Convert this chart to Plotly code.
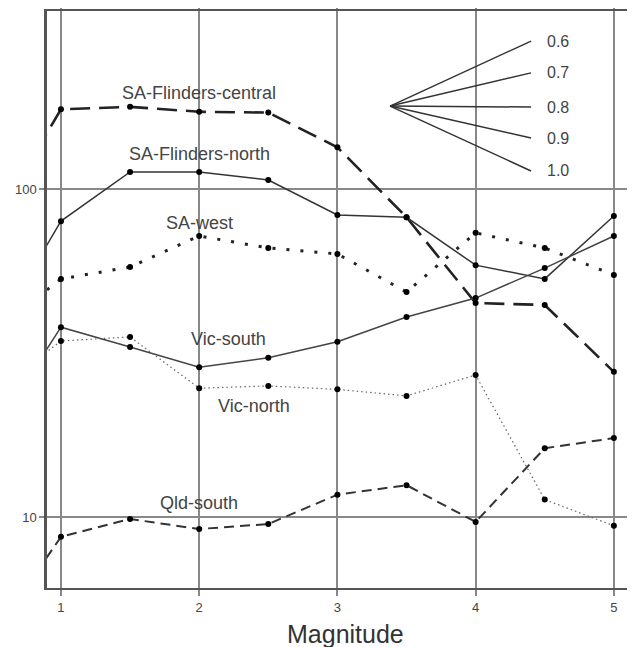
import math
import plotly.graph_objects as go

# ---- data ----
magnitude = [0.5, 1, 1.5, 2, 2.5, 3, 3.5, 4, 4.5, 5]
sa_flinders_central = [77, 175, 178, 172, 171, 134, 82, 44.9, 44.3, 27.7]
sa_flinders_north = [35, 79.8, 112.7, 112.7, 106.5, 83.3, 82, 58.6, 53.2, 82.7]
sa_west = [36.4, 53.2, 57.8, 71.9, 66.1, 63.4, 48.5, 73.5, 66.1, 54.7]
vic_south = [17.8, 37.9, 33.0, 28.6, 30.6, 34.2, 40.7, 46.5, 57.4, 71.9]
vic_north = [23.6, 34.4, 35.4, 24.7, 25.1, 24.5, 23.4, 27.1, 11.3, 9.4]
qld_south = [4.3, 8.7, 9.86, 9.19, 9.52, 11.7, 12.5, 9.66, 16.2, 17.4]

series_names = ["SA-Flinders-central", "SA-Flinders-north", "SA-west",
                "Vic-south", "Vic-north", "Qld-south"]

fan_labels = ["0.6", "0.7", "0.8", "0.9", "1.0"]
fan_origin = (3.381, 179)
fan_end_x = 4.401
fan_end_values = [282.5, 226, 177.8, 143, 113.5]

x_tick_vals = [1, 2, 3, 4, 5]
y_tick_vals = [10, 100]
y_tick_text = ["10", "100"]

FONT = "Liberation Sans, Arial, Helvetica, sans-serif"

styles = [
    dict(color="#222", width=2.6, dash="20px,9px"),
    dict(color="#333", width=1.5, dash="solid"),
    dict(color="#222", width=3, dash="3px,11px"),
    dict(color="#444", width=1.5, dash="solid"),
    dict(color="#666", width=1.2, dash="1.5px,3px"),
    dict(color="#333", width=2, dash="10px,6px"),
]
all_series = [sa_flinders_central, sa_flinders_north, sa_west,
              vic_south, vic_north, qld_south]

fig = go.Figure()
for name, vals, st in zip(series_names, all_series, styles):
    fig.add_trace(go.Scatter(
        x=magnitude, y=vals, name=name, mode="lines+markers",
        line=dict(color=st["color"], width=st["width"], dash=st["dash"]),
        marker=dict(color="#000", size=6),
        showlegend=False,
    ))

# fan legend
for lab, ev in zip(fan_labels, fan_end_values):
    fig.add_trace(go.Scatter(
        x=[fan_origin[0], fan_end_x], y=[fan_origin[1], ev],
        mode="lines", line=dict(color="#333", width=1.5),
        showlegend=False, hoverinfo="skip",
    ))
    fig.add_annotation(x=4.50, y=math.log10(ev), xref="x", yref="y", text=lab,
                       showarrow=False, xanchor="left", yanchor="middle",
                       font=dict(family=FONT, size=16, color="#444"))

label_pos = [(2.0, 196), (2.0, 128), (2.0, 78.8), (2.21, 34.9), (2.40, 21.8), (2.0, 11.0)]
for name, (lx, ly) in zip(series_names, label_pos):
    fig.add_annotation(x=lx, y=math.log10(ly), xref="x", yref="y", text=name,
                       showarrow=False, xanchor="center", yanchor="middle",
                       font=dict(family=FONT, size=18, color="#444"))

# page body adds an 8px offset; compensate in margins / size
fig.add_annotation(x=0.507, y=-0.08, xref="paper", yref="paper",
                   text="Magnitude", showarrow=False,
                   xanchor="center", yanchor="middle",
                   font=dict(family=FONT, size=25, color="#333"))

fig.update_layout(
    width=627, height=639,
    margin=dict(l=39, r=0, t=3, b=59),
    paper_bgcolor="white", plot_bgcolor="white",
    font=dict(family=FONT, color="#444"),
    xaxis=dict(
        range=[0.899, 5.153], tickvals=x_tick_vals,
        ticktext=[str(v) for v in x_tick_vals],
        showgrid=True, gridcolor="#888", gridwidth=1.5,
        showline=True, linecolor="#555", linewidth=2, mirror="ticks",
        ticks="outside", ticklen=6, tickcolor="#888", tickwidth=1.5,
        tickfont=dict(size=13, color="#444"), zeroline=False,
        automargin=False,
    ),
    yaxis=dict(
        type="log", range=[0.7835, 2.5427],
        tickvals=y_tick_vals, ticktext=y_tick_text,
        showgrid=True, gridcolor="#888", gridwidth=1.5,
        showline=True, linecolor="#555", linewidth=2.5, mirror=False,
        ticks="outside", ticklen=5, tickcolor="#888", tickwidth=1.5,
        tickfont=dict(size=13, color="#444"), zeroline=False,
        automargin=False,
    ),
)

fig.write_html("out.html")
